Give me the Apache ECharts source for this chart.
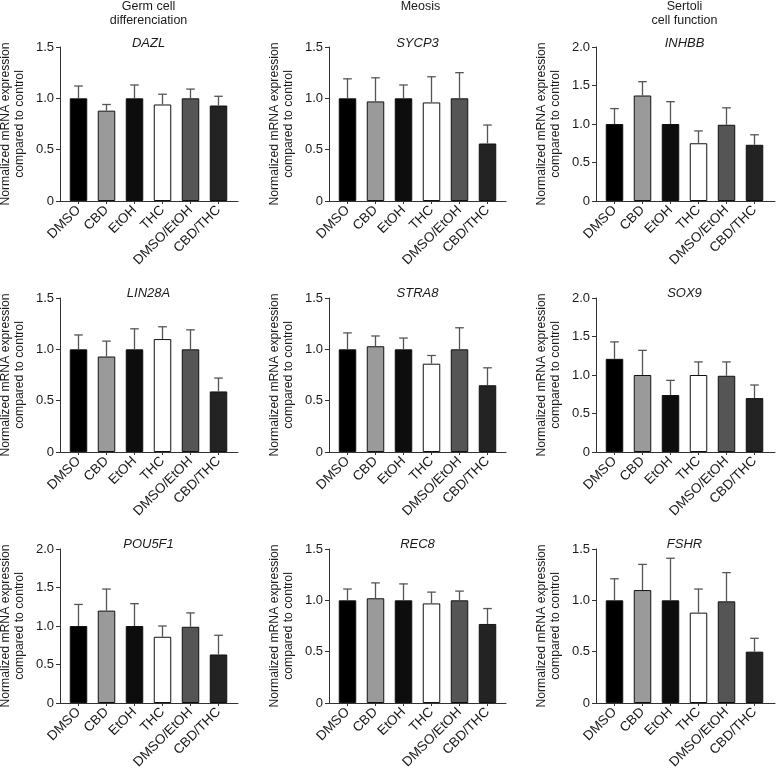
<!DOCTYPE html>
<html>
<head>
<meta charset="utf-8">
<script src="https://cdn.jsdelivr.net/npm/echarts@6/dist/echarts.min.js"></script>
<style>
html,body{margin:0;padding:0;background:#fff;}
#chart{width:776px;height:770px;}
</style>
</head>
<body>
<div id="chart"></div>
<script>
// ---- data ----
const categories = ['DMSO', 'CBD', 'EtOH', 'THC', 'DMSO/EtOH', 'CBD/THC'];
const groupTitles = ['Germ cell\ndifferenciation', 'Meosis', 'Sertoli\ncell function'];
const genes = ['DAZL', 'SYCP3', 'INHBB', 'LIN28A', 'STRA8', 'SOX9', 'POU5F1', 'REC8', 'FSHR'];
const yMax = [1.5, 1.5, 2.0, 1.5, 1.5, 2.0, 2.0, 1.5, 1.5];
const yInterval = 0.5;

const meanDAZL   = [1.00, 0.88, 1.00, 0.94, 1.00, 0.93];
const semDAZL    = [0.12, 0.06, 0.13, 0.10, 0.09, 0.09];
const meanSYCP3  = [1.00, 0.97, 1.00, 0.96, 1.00, 0.56];
const semSYCP3   = [0.19, 0.23, 0.13, 0.25, 0.25, 0.18];
const meanINHBB  = [1.00, 1.37, 1.00, 0.75, 0.99, 0.73];
const semINHBB   = [0.20, 0.18, 0.29, 0.16, 0.22, 0.13];
const meanLIN28A = [1.00, 0.93, 1.00, 1.10, 1.00, 0.59];
const semLIN28A  = [0.14, 0.15, 0.20, 0.12, 0.19, 0.13];
const meanSTRA8  = [1.00, 1.03, 1.00, 0.86, 1.00, 0.65];
const semSTRA8   = [0.16, 0.10, 0.11, 0.08, 0.21, 0.17];
const meanSOX9   = [1.21, 1.00, 0.74, 1.00, 0.99, 0.70];
const semSOX9    = [0.22, 0.32, 0.19, 0.17, 0.18, 0.17];
const meanPOU5F1 = [1.00, 1.20, 1.00, 0.86, 0.99, 0.63];
const semPOU5F1  = [0.28, 0.28, 0.29, 0.14, 0.18, 0.25];
const meanREC8   = [1.00, 1.02, 1.00, 0.97, 1.00, 0.77];
const semREC8    = [0.11, 0.15, 0.16, 0.11, 0.09, 0.15];
const meanFSHR   = [1.00, 1.10, 1.00, 0.88, 0.99, 0.50];
const semFSHR    = [0.21, 0.25, 0.41, 0.23, 0.28, 0.13];

const means = [meanDAZL, meanSYCP3, meanINHBB, meanLIN28A, meanSTRA8, meanSOX9, meanPOU5F1, meanREC8, meanFSHR];
const sems  = [semDAZL, semSYCP3, semINHBB, semLIN28A, semSTRA8, semSOX9, semPOU5F1, semREC8, semFSHR];

// ---- styles / layout ----
const barColors = ['#000000', '#9a9a9a', '#0d0d0d', '#ffffff', '#555555', '#232323'];
const FONT = '"Liberation Sans", Arial, Helvetica, sans-serif';
const TEXT = '#1a1a1a';
const AXIS = '#333333';
const colAxisX = [60, 329, 596];
const colAxisEnd = [238, 506, 775];
const bandGap = 4.5;
const bandW = 168;
const rowTop = [47, 298, 549];
const plotH = 154;
const titleOffset = [3.5, 4.4, 4.7];

const chart = echarts.init(document.getElementById('chart'), null, {renderer: 'canvas'});

const grid = [], xAxis = [], yAxis = [], series = [], graphic = [];

genes.forEach((g, p) => {
  const r = Math.floor(p / 3), c = p % 3;
  const top = rowTop[r];
  const bandLeft = colAxisX[c] + bandGap;
  // bars grid
  grid.push({left: bandLeft, top: top, width: bandW, height: plotH, containLabel: false, outerBoundsMode: 'none'});
  // axes grid
  grid.push({left: colAxisX[c], top: top, width: colAxisEnd[c] - colAxisX[c], height: plotH, containLabel: false, outerBoundsMode: 'none'});

  xAxis.push({
    type: 'category', gridIndex: 2 * p, data: categories,
    axisLine: {show: false},
    axisTick: {show: true, alignWithLabel: true, length: 3, lineStyle: {color: AXIS, width: 1}},
    axisLabel: {interval: 0, rotate: 45, margin: 7, fontSize: 13.5, color: TEXT, fontFamily: FONT},
    splitLine: {show: false}
  });
  xAxis.push({
    type: 'value', gridIndex: 2 * p + 1, min: 0, max: 1,
    axisLine: {show: true, onZero: false, lineStyle: {color: AXIS, width: 1}},
    axisTick: {show: false}, axisLabel: {show: false}, splitLine: {show: false}
  });
  yAxis.push({
    type: 'value', gridIndex: 2 * p, min: 0, max: yMax[p], interval: yInterval, show: false
  });
  yAxis.push({
    type: 'value', gridIndex: 2 * p + 1, min: 0, max: yMax[p], interval: yInterval,
    axisLine: {show: true, onZero: false, lineStyle: {color: AXIS, width: 1}},
    axisTick: {show: true, length: 4, lineStyle: {color: AXIS, width: 1}},
    axisLabel: {margin: 6, fontSize: 13, color: TEXT, fontFamily: FONT,
      formatter: v => v === 0 ? '0' : v.toFixed(1)},
    splitLine: {show: false},
    name: 'Normalized mRNA expression\ncompared to control',
    nameLocation: 'middle', nameGap: 34,
    nameTextStyle: {fontSize: 12.2, color: TEXT, fontFamily: FONT, lineHeight: 13.5}
  });

  series.push({
    type: 'bar', xAxisIndex: 2 * p, yAxisIndex: 2 * p, barWidth: 17.5,
    data: means[p].map((v, i) => ({value: v, itemStyle: {color: barColors[i], borderColor: '#111', borderWidth: 1}})),
    silent: true, animation: false, z: 2
  });
  series.push({
    type: 'custom', xAxisIndex: 2 * p, yAxisIndex: 2 * p,
    data: means[p].map((v, i) => [i, v, sems[p][i]]),
    encode: {x: 0, y: 1},
    renderItem: (params, api) => {
      const idx = api.value(0), m = api.value(1), e = api.value(2);
      const p0 = api.coord([idx, m]);
      const p1 = api.coord([idx, m + e]);
      const cap = 4.3;
      const st = {stroke: '#555', lineWidth: 1.3};
      return {type: 'group', children: [
        {type: 'line', shape: {x1: p0[0], y1: p0[1], x2: p1[0], y2: p1[1]}, style: st},
        {type: 'line', shape: {x1: p1[0] - cap, y1: p1[1], x2: p1[0] + cap, y2: p1[1]}, style: st}
      ]};
    },
    silent: true, animation: false, z: 3
  });

  graphic.push({
    type: 'text', x: bandLeft + bandW / 2, y: top - titleOffset[r],
    style: {text: g, fontSize: 13, fontStyle: 'italic', fontFamily: FONT, fill: TEXT,
      textAlign: 'center', textVerticalAlign: 'middle'}
  });
});

groupTitles.forEach((t, c) => {
  graphic.push({
    type: 'text', x: colAxisX[c] + bandGap + bandW / 2 + (c === 1 ? 3 : 0), y: 0,
    style: {text: t, fontSize: 12.5, fontFamily: FONT, fill: TEXT, textAlign: 'center',
      textVerticalAlign: 'top', lineHeight: 14}
  });
});

chart.setOption({
  animation: false,
  backgroundColor: '#ffffff',
  textStyle: {fontFamily: FONT},
  grid, xAxis, yAxis, series, graphic
});
</script>
</body>
</html>
